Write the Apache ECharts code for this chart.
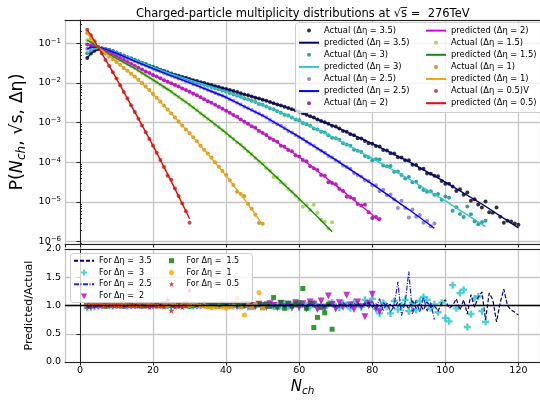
<!DOCTYPE html>
<html>
<head>
<meta charset="utf-8">
<script src="https://cdn.jsdelivr.net/npm/echarts@6/dist/echarts.min.js"></script>
<style>html,body{margin:0;padding:0;background:#fff}#chart{width:540px;height:402px}</style>
</head>
<body>
<div id="chart"></div>
<script>
// Multiplicity N_ch runs from 2 for every pseudorapidity window
const nFirst = 2;
const etaLabels = ['3.5', '3', '2.5', '2', '1.5', '1', '0.5'];

// Measured distributions, log10 P(N_ch) at N_ch = 2, 3, 4, ...
const actLog35 = [-1.37,-1.26,-1.19,-1.15,-1.14,-1.15,-1.17,-1.20,-1.24,
 -1.28,-1.32,-1.36,-1.39,-1.43,-1.46,-1.50,-1.53,-1.57,-1.60,
 -1.63,-1.67,-1.70,-1.73,-1.76,-1.79,-1.82,-1.85,-1.87,-1.90,
 -1.93,-1.95,-1.98,-2.00,-2.03,-2.05,-2.08,-2.10,-2.13,-2.15,
 -2.18,-2.20,-2.23,-2.26,-2.29,-2.31,-2.34,-2.37,-2.39,-2.42,
 -2.45,-2.48,-2.51,-2.54,-2.57,-2.60,-2.63,-2.66,-2.69,-2.72,
 -2.76,-2.80,-2.84,-2.87,-2.92,-2.96,-2.99,-3.03,-3.08,-3.10,
 -3.15,-3.21,-3.23,-3.29,-3.32,-3.39,-3.40,-3.46,-3.52,-3.53,
 -3.59,-3.60,-3.69,-3.70,-3.77,-3.78,-3.87,-3.88,-3.95,-3.95,
 -4.06,-4.07,-4.16,-4.16,-4.28,-4.29,-4.34,-4.35,-4.47,-4.54,
 -4.54,-4.61,-4.72,-4.68,-4.82,-4.76,-4.97,-4.93,-5.06,-5.14,
 -4.99,-5.26,-5.27,-5.14,-5.37,-5.52,-5.47,-5.49,-5.54,-5.57];
const actLog3 = [-1.25,-1.18,-1.14,-1.13,-1.13,-1.15,-1.17,-1.20,-1.23,
 -1.27,-1.31,-1.35,-1.38,-1.42,-1.46,-1.49,-1.53,-1.56,-1.60,
 -1.63,-1.67,-1.70,-1.74,-1.77,-1.80,-1.83,-1.86,-1.89,-1.92,
 -1.95,-1.98,-2.01,-2.04,-2.07,-2.10,-2.13,-2.16,-2.19,-2.22,
 -2.25,-2.29,-2.32,-2.35,-2.39,-2.41,-2.45,-2.48,-2.53,-2.55,
 -2.59,-2.64,-2.66,-2.71,-2.75,-2.80,-2.82,-2.87,-2.92,-2.94,
 -3.01,-3.04,-3.08,-3.15,-3.17,-3.23,-3.25,-3.32,-3.38,-3.39,
 -3.43,-3.52,-3.55,-3.58,-3.68,-3.71,-3.74,-3.84,-3.87,-3.95,
 -3.92,-3.93,-4.08,-4.10,-4.09,-4.24,-4.23,-4.32,-4.41,-4.37,
 -4.50,-4.49,-4.62,-4.70,-4.74,-4.73,-4.82,-4.80,-4.94,-4.86,
 -4.89,-5.22,-5.13,-5.30,-5.38,-5.11,-5.31,-5.49,-5.56,-5.51,-5.47];
const actLog25 = [-1.14,-1.10,-1.09,-1.10,-1.12,-1.15,-1.18,-1.21,-1.25,
 -1.29,-1.33,-1.37,-1.41,-1.45,-1.49,-1.53,-1.56,-1.60,-1.64,
 -1.68,-1.71,-1.75,-1.78,-1.82,-1.85,-1.89,-1.92,-1.96,-1.99,
 -2.03,-2.06,-2.10,-2.14,-2.18,-2.21,-2.25,-2.29,-2.32,-2.36,
 -2.41,-2.45,-2.50,-2.54,-2.60,-2.64,-2.68,-2.73,-2.77,-2.82,
 -2.87,-2.93,-2.99,-3.04,-3.08,-3.14,-3.21,-3.25,-3.31,-3.37,
 -3.41,-3.48,-3.54,-3.58,-3.66,-3.71,-3.76,-3.84,-3.88,-3.95,
 -3.99,-4.08,-4.12,-4.16,-4.27,-4.32,-4.36,-4.45,-4.47,-4.58,
 -4.58,-4.73,-4.69,-4.83,-4.81,-4.93,-5.15,-4.97,-5.15,-5.39,
 -5.19,-5.37,-5.33,-5.52,-5.48,-5.61,-5.54];
const actLog2 = [-1.03,-1.04,-1.07,-1.11,-1.15,-1.19,-1.23,-1.28,-1.33,
 -1.38,-1.42,-1.47,-1.52,-1.57,-1.62,-1.66,-1.71,-1.75,-1.80,
 -1.84,-1.88,-1.93,-1.97,-2.01,-2.05,-2.09,-2.14,-2.18,-2.22,
 -2.27,-2.31,-2.36,-2.41,-2.46,-2.50,-2.55,-2.60,-2.65,-2.70,
 -2.75,-2.81,-2.85,-2.92,-2.98,-3.03,-3.09,-3.13,-3.21,-3.26,
 -3.31,-3.39,-3.44,-3.48,-3.58,-3.61,-3.69,-3.72,-3.82,-3.85,
 -3.94,-3.97,-4.10,-4.15,-4.19,-4.32,-4.34,-4.50,-4.52,-4.55,
 -4.67,-4.72,-4.87,-4.88,-4.92,-5.05,-5.09,-5.07,-5.26,-5.40,-5.38,-5.43];
const actLog15 = [-0.92,-0.97,-1.04,-1.11,-1.16,-1.22,-1.27,-1.33,-1.38,
 -1.43,-1.48,-1.53,-1.58,-1.63,-1.69,-1.75,-1.80,-1.86,-1.92,
 -1.98,-2.04,-2.10,-2.16,-2.22,-2.29,-2.35,-2.42,-2.48,-2.55,
 -2.62,-2.69,-2.76,-2.83,-2.90,-2.97,-3.05,-3.11,-3.19,-3.26,
 -3.34,-3.41,-3.50,-3.55,-3.64,-3.73,-3.79,-3.89,-3.98,-4.03,
 -4.15,-4.21,-4.37,-4.38,-4.50,-4.55,-4.67,-4.74,-4.84,-4.94,
 -5.12,-5.08,-5.20,-5.07,-5.27,-5.45,-5.50,-5.67,-5.51];
const actLog1 = [-0.75,-0.87,-0.99,-1.10,-1.18,-1.26,-1.33,-1.40,-1.47,
 -1.54,-1.62,-1.69,-1.77,-1.84,-1.92,-2.00,-2.09,-2.18,-2.28,
 -2.37,-2.47,-2.57,-2.67,-2.77,-2.87,-2.97,-3.07,-3.17,-3.27,
 -3.37,-3.47,-3.58,-3.68,-3.78,-3.88,-4.00,-4.11,-4.22,-4.32,
 -4.45,-4.57,-4.74,-4.80,-4.85,-5.05,-5.17,-5.32,-5.53,-5.55];
const actLog05 = [-0.66,-0.80,-0.95,-1.10,-1.26,-1.42,-1.57,-1.73,-1.89,
 -2.06,-2.23,-2.39,-2.56,-2.73,-2.90,-3.07,-3.24,-3.41,-3.58,
 -3.76,-3.94,-4.12,-4.34,-4.44,-4.66,-4.85,-5.04,-5.23,-5.52];

// Model curves: N_ch nodes and log10 P at those nodes
const predN35 = [2,3,4,5,6,7,8,10,12,15,20,25,30,40,50,60,70,80,90,100,110,120];
const predLog35 = [-1.37,-1.26,-1.19,-1.15,-1.14,-1.15,-1.17,-1.24,-1.32,-1.43,-1.60,-1.76,-1.90,-2.15,-2.42,-2.72,-3.11,-3.53,-3.98,-4.50,-5.05,-5.65];
const predN3 = [2,3,4,5,6,7,8,10,12,15,20,25,30,40,50,60,70,80,90,100,111];
const predLog3 = [-1.25,-1.18,-1.14,-1.13,-1.13,-1.15,-1.17,-1.23,-1.31,-1.42,-1.60,-1.77,-1.92,-2.22,-2.55,-2.95,-3.40,-3.90,-4.42,-4.97,-5.62];
const predN25 = [2,3,4,5,6,8,10,15,20,25,30,40,50,60,70,80,90,97];
const predLog25 = [-1.14,-1.10,-1.09,-1.10,-1.12,-1.18,-1.25,-1.45,-1.64,-1.82,-1.99,-2.36,-2.82,-3.36,-3.94,-4.55,-5.19,-5.66];
const predN2 = [2,3,4,5,6,8,10,15,20,25,30,40,50,60,70,80,82];
const predLog2 = [-1.03,-1.04,-1.07,-1.11,-1.15,-1.23,-1.33,-1.57,-1.80,-2.01,-2.22,-2.70,-3.26,-3.86,-4.58,-5.32,-5.48];
const predN15 = [2,3,4,5,10,15,20,25,30,35,40,45,50,55,60,65,69];
const predLog15 = [-0.92,-0.97,-1.04,-1.11,-1.38,-1.63,-1.92,-2.22,-2.55,-2.90,-3.26,-3.64,-4.05,-4.48,-4.92,-5.37,-5.75];
const predN1 = [2,3,4,5,8,10,15,20,25,30,35,40,45,50];
const predLog1 = [-0.75,-0.87,-0.99,-1.10,-1.33,-1.47,-1.84,-2.28,-2.77,-3.27,-3.79,-4.34,-4.93,-5.57];
const predN05 = [2,3,4,5,8,10,15,20,25,30];
const predLog05 = [-0.66,-0.80,-0.95,-1.10,-1.57,-1.89,-2.73,-3.58,-4.48,-5.42];

// Predicted / actual ratio at N_ch = 2, 3, 4, ...
const ratio35 = [0.97,0.98,0.98,0.99,1.00,1.00,0.99,1.00,1.00,
 1.00,0.99,1.00,1.00,1.01,1.00,1.00,0.99,1.00,1.00,
 1.00,1.01,1.00,1.00,0.99,1.00,1.00,1.01,1.00,1.00,
 1.00,0.99,1.00,1.01,1.00,1.00,1.00,0.99,1.00,1.01,
 1.00,1.00,0.99,1.00,1.01,1.00,1.00,0.99,1.01,1.00,
 1.00,1.02,0.99,1.00,1.01,0.99,1.00,1.02,0.99,1.00,
 1.01,0.98,1.02,1.00,0.99,1.03,0.98,1.01,1.02,0.98,
 1.01,1.03,0.97,1.02,0.99,1.04,0.97,1.02,1.05,0.97,
 1.03,0.96,1.05,0.98,1.02,0.95,1.06,0.97,1.04,0.94,
 1.08,0.95,1.03,0.92,1.06,0.97,1.00,0.90,1.05,1.10,
 0.95,1.00,1.12,0.92,1.10,0.85,1.19,0.97,1.15,1.24,
 0.75,1.22,1.10,0.71,1.05,1.29,1.00,0.92,0.88,0.83];
const ratio3 = [0.96,0.97,0.98,0.99,0.99,1.00,1.00,0.99,1.00,
 1.00,1.00,0.99,1.00,1.00,1.01,1.00,1.00,0.99,1.00,
 1.00,1.00,1.01,1.00,0.99,1.00,1.00,1.00,1.01,1.00,
 0.99,1.00,1.00,1.01,1.00,0.99,1.00,1.00,1.01,1.00,
 1.00,0.99,1.01,1.00,1.00,0.98,1.01,1.00,1.02,0.99,
 1.00,1.02,0.98,1.01,0.99,1.03,0.98,1.01,1.02,0.97,
 1.02,1.00,0.97,1.04,0.98,1.02,0.96,1.03,1.05,0.98,
 0.96,1.04,1.01,0.95,1.06,1.02,0.97,1.10,1.04,1.12,
 0.94,0.86,1.05,0.98,0.86,1.08,0.93,1.00,1.10,0.90,
 1.04,0.92,1.08,1.15,1.10,0.95,1.02,0.88,1.05,0.78,
 0.72,1.36,0.95,1.22,1.28,0.62,0.85,1.13,1.16,0.90,0.71];
const ratio25 = [0.97,0.98,0.98,0.99,1.00,1.00,0.99,1.00,1.00,
 1.00,1.00,0.99,1.00,1.00,1.00,1.01,1.00,1.00,0.99,
 1.00,1.00,1.00,1.01,1.00,1.00,0.99,1.00,1.00,1.00,
 1.01,1.00,0.99,1.00,1.00,1.01,1.00,0.99,1.00,1.00,
 1.01,1.00,0.99,1.00,1.02,0.99,1.00,1.01,0.99,1.01,
 1.00,0.99,1.02,1.00,0.98,1.01,1.02,0.99,1.00,1.03,
 0.98,1.01,1.03,0.97,1.02,1.00,0.97,1.04,0.99,1.02,
 0.97,1.05,1.00,0.96,1.04,1.02,0.97,1.05,0.95,1.08,
 0.93,1.12,0.90,1.05,0.88,1.00,1.42,0.82,1.05,1.60,
 0.85,1.10,0.88,1.15,0.90,1.05,0.75];
const ratio2 = [0.98,0.98,0.99,0.99,1.00,1.00,1.00,0.99,1.00,
 1.00,1.00,1.00,0.99,1.00,1.01,1.00,1.00,1.00,0.99,
 1.00,1.00,1.01,1.00,1.00,0.99,1.00,1.00,1.01,1.00,
 1.00,0.99,1.00,1.01,1.00,1.00,0.99,1.00,1.01,0.99,
 1.00,1.01,0.98,1.00,1.02,0.99,1.00,0.98,1.02,1.00,
 0.97,1.03,1.00,0.96,1.04,0.98,1.02,0.95,1.05,0.97,
 1.03,0.94,1.06,1.02,0.93,1.08,0.96,1.17,1.02,0.94,
 1.05,0.97,1.18,1.01,0.93,1.06,0.98,0.80,1.03,1.20,0.95,0.89];
const ratio15 = [0.99,0.99,1.00,1.00,1.00,0.99,1.00,1.00,1.00,
 1.00,0.99,1.00,1.00,1.00,1.00,0.99,1.00,1.00,1.00,
 1.00,1.00,0.99,1.00,1.00,1.00,1.00,1.01,1.00,0.99,
 1.00,1.00,1.01,1.00,0.99,1.00,1.01,0.98,1.00,1.01,
 0.99,1.00,1.02,0.98,1.00,1.03,0.97,1.01,1.02,0.96,
 1.03,0.98,1.14,0.97,1.05,0.95,1.04,0.99,1.03,1.05,
 1.30,0.95,1.04,0.61,0.79,0.96,0.87,1.02,0.58];
const ratio1 = [0.99,1.00,1.00,1.00,1.00,0.99,1.00,1.00,1.00,
 1.00,1.00,1.00,0.99,1.00,1.00,1.00,1.01,1.00,1.00,
 0.99,1.00,1.00,1.00,1.01,1.00,0.99,1.00,1.00,1.00,
 1.01,1.00,0.99,1.00,0.98,0.96,0.97,0.98,0.97,0.95,
 0.98,0.99,1.13,0.97,0.83,1.00,0.98,1.02,1.23,0.96];
const ratio05 = [0.99,1.00,1.00,1.00,1.00,0.99,1.00,1.00,1.00,
 1.00,0.99,1.00,1.00,1.00,0.99,1.00,1.00,0.98,1.00,
 0.99,1.00,0.98,1.10,0.91,0.98,0.99,0.97,1.00,1.27];

// Axis ticks
const xTicks = [0, 20, 40, 60, 80, 100, 120];
const yDecades = [-6, -5, -4, -3, -2, -1];
const ratioTicks = [0.0, 0.5, 1.0, 1.5, 2.0];

const FONT = 'DejaVu Sans';
const X_MIN = -4.09, X_MAX = 125.9;
const LOGP_MIN = -6.058, LOGP_MAX = -0.413;

const groups = [
  {eta: etaLabels[0], act: actLog35, pn: predN35, pl: predLog35, r: ratio35, dot: '#000000', line: '#00007a'},
  {eta: etaLabels[1], act: actLog3, pn: predN3, pl: predLog3, r: ratio3, dot: '#008b8b', line: '#2ec8c8'},
  {eta: etaLabels[2], act: actLog25, pn: predN25, pl: predLog25, r: ratio25, dot: '#7b68ee', line: '#0000ff'},
  {eta: etaLabels[3], act: actLog2, pn: predN2, pl: predLog2, r: ratio2, dot: '#8b008b', line: '#e000e0'},
  {eta: etaLabels[4], act: actLog15, pn: predN15, pl: predLog15, r: ratio15, dot: '#9acd32', line: '#148c14'},
  {eta: etaLabels[5], act: actLog1, pn: predN1, pl: predLog1, r: ratio1, dot: '#b8860b', line: '#ffa500'},
  {eta: etaLabels[6], act: actLog05, pn: predN05, pl: predLog05, r: ratio05, dot: '#b22222', line: '#ff0000'}
];

// Marker shapes for the ratio panel
const PLUS = 'path://M-1,-3H1V-1H3V1H1V3H-1V1H-3V-1H-1Z';
const STAR = 'path://M0,-10L2.35,-3.24L9.51,-3.09L3.8,1.24L5.88,8.09L0,4L-5.88,8.09L-3.8,1.24L-9.51,-3.09L-2.35,-3.24Z';
const TRI_DOWN = 'path://M-5,-4L5,-4L0,5Z';
const SQUARE = 'path://M0,0H1V1H0Z';
// Legend versions: the leading moves pad the box so each glyph keeps its own size
const PLUS_L = 'path://M-3.6,-3.6M3.6,3.6M-1,-3H1V-1H3V1H1V3H-1V1H-3V-1H-1Z';
const TRI_L = 'path://M-5.4,-5.4M5.4,5.4M-5,-4L5,-4L0,5Z';
const SQUARE_L = 'path://M-3.5,-3.5M3.5,3.5M-2.5,-2.5H2.5V2.5H-2.5Z';
const CIRCLE_L = 'path://M-3.5,-3.5M3.5,3.5M2.6,0A2.6,2.6,0,1,1,-2.6,0A2.6,2.6,0,1,1,2.6,0Z';
const STAR_L = 'path://M-12,-12M12,12M0,-10L2.35,-3.24L9.51,-3.09L3.8,1.24L5.88,8.09L0,4L-5.88,8.09L-3.8,1.24L-9.51,-3.09L-2.35,-3.24Z';

// Styles of the ratio series, in the order of etaLabels
const ratioStyle = [
  {kind: 'line', color: '#00008b', dash: [4, 2]},
  {kind: 'scatter', color: '#1ec8c8', symbol: PLUS, size: 7, icon: PLUS_L},
  {kind: 'line', color: '#2020ff', dash: [5, 1.5, 1, 1.5]},
  {kind: 'scatter', color: '#c000c0', symbol: TRI_DOWN, size: 7, icon: TRI_L},
  {kind: 'scatter', color: '#007f00', symbol: SQUARE, size: 5, icon: SQUARE_L},
  {kind: 'scatter', color: '#ffa500', symbol: 'circle', size: 5, icon: CIRCLE_L},
  {kind: 'scatter', color: '#ff0000', symbol: STAR, size: 6, icon: STAR_L}
];

const series = [];
const topLegend = [];
groups.forEach(g => {
  const aName = 'Actual (\u0394\u03b7 = ' + g.eta + ')' + (g.eta === '0.5' ? 'V' : '');
  const pName = 'predicted (\u0394\u03b7 = ' + g.eta + ')';
  topLegend.push({name: aName}, {name: pName, itemStyle: {opacity: 0}});
  series.push({
    name: aName, type: 'scatter', xAxisIndex: 0, yAxisIndex: 0,
    symbol: 'circle', symbolSize: 4, itemStyle: {color: g.dot},
    data: g.act.map((v, i) => [nFirst + i, Math.pow(10, v)])
  });
  series.push({
    name: pName, type: 'line', xAxisIndex: 0, yAxisIndex: 0,
    symbol: 'none', smooth: false,
    lineStyle: {color: g.line, width: 1.4}, itemStyle: {color: g.line},
    data: g.pn.map((n, i) => [n, Math.pow(10, g.pl[i])])
  });
});

const bottomLegend = [];
groups.forEach((g, k) => {
  const st = ratioStyle[k];
  const name = 'For \u0394\u03b7 =  ' + g.eta;
  const data = g.r.map((v, i) => [nFirst + i, v]);
  const s = {name, xAxisIndex: 1, yAxisIndex: 1, data, itemStyle: {color: st.color}};
  if (st.kind === 'line') {
    bottomLegend.push({name, itemStyle: {opacity: 0}});
    Object.assign(s, {type: 'line', symbol: 'none',
      lineStyle: {color: st.color, width: 1.2, type: st.dash}});
  } else {
    bottomLegend.push({name, icon: st.icon});
    Object.assign(s, {type: 'scatter', symbol: st.symbol, symbolSize: st.size});
  }
  if (k === 0) {
    s.markLine = {silent: true, symbol: 'none', label: {show: false},
      lineStyle: {color: '#000', width: 1.3, type: 'solid'}, data: [{yAxis: 1}]};
  }
  series.push(s);
});

const minorTicks = [];
for (let e = -7; e <= 0; e++) {
  for (let m = 2; m <= 9; m++) {
    const v = m * Math.pow(10, e);
    if (Math.log10(v) > LOGP_MIN && Math.log10(v) < LOGP_MAX) minorTicks.push(v);
  }
}

const axisLineStyle = {show: true, lineStyle: {color: '#222', width: 1}};
const gridLine = {show: true, lineStyle: {color: '#c6c6c6', width: 1.3}};
const tickFont = {fontFamily: FONT, fontSize: 9.5, color: '#000'};
const legendText = (size, lh) => ({fontFamily: FONT, fontSize: size, color: '#000', lineHeight: lh});

const xBase = {
  type: 'value', min: X_MIN, max: X_MAX, minInterval: 20, maxInterval: 20,
  axisLine: axisLineStyle, axisTick: {show: true, length: 3.5, lineStyle: {color: '#222'}},
  splitLine: gridLine
};

const option = {
  animation: false,
  backgroundColor: '#fff',
  title: {
    text: 'Charged-particle multiplicity distributions at \u221as\u0305 =  276TeV',
    left: 131, top: 3,
    textStyle: {fontFamily: FONT, fontSize: 11.5, fontWeight: 'normal', color: '#000'}
  },
  grid: [
    {left: 65, top: 20, width: 477, height: 224},
    {left: 65, top: 249, width: 477, height: 113}
  ],
  xAxis: [
    Object.assign({}, xBase, {gridIndex: 0, axisLabel: {show: false}}),
    Object.assign({}, xBase, {
      gridIndex: 1,
      axisLabel: Object.assign({showMinLabel: false, showMaxLabel: false, margin: 4,
        formatter: v => (xTicks.indexOf(v) >= 0 ? String(v) : '')}, tickFont),
      name: '{i|N}{s|ch}', nameLocation: 'middle', nameGap: 16,
      nameTextStyle: {fontFamily: FONT, fontSize: 15, color: '#000',
        rich: {i: {fontFamily: FONT, fontSize: 15, fontStyle: 'italic', color: '#000'},
               s: {fontFamily: FONT, fontSize: 10.5, fontStyle: 'italic', color: '#000', verticalAlign: 'bottom', padding: [8, 0, 0, 0]}}}
    }),
    {gridIndex: 0, type: 'value', position: 'top', min: X_MIN, max: X_MAX,
      axisLine: axisLineStyle, axisTick: {show: false}, axisLabel: {show: false}, splitLine: {show: false}},
    {gridIndex: 1, type: 'value', position: 'top', min: X_MIN, max: X_MAX,
      axisLine: axisLineStyle, axisTick: {show: false}, axisLabel: {show: false}, splitLine: {show: false}}
  ],
  yAxis: [
    {
      gridIndex: 0, type: 'log', logBase: 10,
      min: Math.pow(10, LOGP_MIN), max: Math.pow(10, LOGP_MAX),
      axisLine: axisLineStyle, axisTick: {show: true, length: 3.5, lineStyle: {color: '#222'}},
      splitLine: gridLine,
      axisLabel: Object.assign({showMinLabel: false, showMaxLabel: false, margin: 4,
        formatter: v => {
          const e = Math.round(Math.log10(v));
          return yDecades.indexOf(e) >= 0 ? '10{sup|\u2212' + Math.abs(e) + '}' : '';
        },
        rich: {sup: {fontFamily: FONT, fontSize: 7, color: '#000', verticalAlign: 'top', padding: [0, 0, 5, 0]}}
      }, tickFont),
      name: 'P({i|N}{s|ch}, \u221as, \u0394\u03b7)', nameLocation: 'middle', nameGap: 28,
      nameTextStyle: {fontFamily: FONT, fontSize: 17.5, color: '#000',
        rich: {i: {fontFamily: FONT, fontSize: 17.5, fontStyle: 'italic', color: '#000'},
               s: {fontFamily: FONT, fontSize: 12, fontStyle: 'italic', color: '#000', verticalAlign: 'bottom', padding: [8, 0, 0, 0]}}}
    },
    {
      gridIndex: 1, type: 'value', min: 0, max: 2, interval: 0.5,
      axisLine: axisLineStyle, axisTick: {show: true, length: 3.5, lineStyle: {color: '#222'}},
      splitLine: gridLine,
      axisLabel: Object.assign({margin: 4, formatter: v => (ratioTicks.indexOf(v) >= 0 ? v.toFixed(1) : '')}, tickFont),
      name: 'Predicted/Actual', nameLocation: 'middle', nameGap: 17,
      nameTextStyle: {fontFamily: FONT, fontSize: 11, color: '#000'}
    },
    {
      gridIndex: 0, type: 'log', logBase: 10,
      min: Math.pow(10, LOGP_MIN), max: Math.pow(10, LOGP_MAX),
      axisLine: {show: false}, axisLabel: {show: false}, splitLine: {show: false},
      axisTick: {show: true, length: 2, customValues: minorTicks, lineStyle: {color: '#222'}}
    }
  ],
  legend: [
    {data: topLegend.slice(0, 7), left: 298, top: 24.6, orient: 'vertical', padding: 0,
      itemWidth: 20, itemHeight: 4, itemGap: 0.1, selectedMode: false, z: 8, textStyle: legendText(8.4, 12)},
    {data: topLegend.slice(7), left: 425, top: 24.6, orient: 'vertical', padding: 0,
      itemWidth: 20, itemHeight: 4, itemGap: 0.1, selectedMode: false, z: 8, textStyle: legendText(8.4, 12)},
    {data: bottomLegend.slice(0, 4), left: 73, top: 254.8, orient: 'vertical', padding: 0,
      itemWidth: 20, itemHeight: 7, itemGap: 0, selectedMode: false, z: 8, textStyle: legendText(8, 11.8)},
    {data: bottomLegend.slice(4), left: 168, top: 254.8, orient: 'vertical', padding: 0,
      itemWidth: 20, itemHeight: 7, itemGap: 0, selectedMode: false, z: 8, textStyle: legendText(8, 11.8)}
  ],
  graphic: [
    {type: 'rect', left: 295, top: 22, z: 6, silent: true,
      shape: {width: 262, height: 90, r: 3},
      style: {fill: 'rgba(255,255,255,0.8)', stroke: '#cccccc', lineWidth: 1}},
    {type: 'rect', left: 70, top: 253, z: 6, silent: true,
      shape: {width: 182, height: 49, r: 3},
      style: {fill: 'rgba(255,255,255,0.8)', stroke: '#cccccc', lineWidth: 1}}
  ],
  series
};

const chart = echarts.init(document.getElementById('chart'), null, {renderer: 'canvas'});
chart.setOption(option);
</script>
</body>
</html>
